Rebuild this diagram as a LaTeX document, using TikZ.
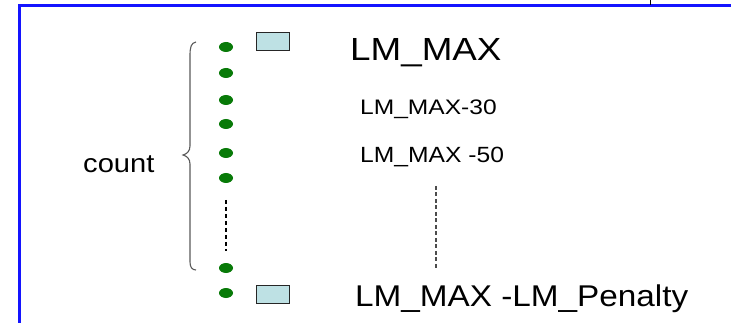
\documentclass[tikz,border=0pt]{standalone}
\usepackage{fontspec}
\usepackage{graphicx}
\setmainfont{Liberation Sans}
\usetikzlibrary{shapes.geometric}
\definecolor{dotgreen}{RGB}{8,122,8}
\definecolor{boxfill}{RGB}{190,225,228}
\definecolor{frameblue}{RGB}{20,20,255}
\definecolor{bracegray}{RGB}{90,90,90}
\begin{document}
\begin{tikzpicture}[x=1pt,y=-1pt,
  dotnode/.style={shape=ellipse, fill=dotgreen, draw=none, minimum width=14pt, minimum height=10pt, inner sep=0pt},
  boxnode/.style={shape=rectangle, fill=boxfill, draw=black!85, line width=1pt, minimum width=33pt, minimum height=18pt, inner sep=0pt},
  lbl/.style={anchor=base west, inner sep=0pt, text=black},
  vdash/.style={line width=1.8pt, dash pattern=on 4pt off 3pt},
  tdash/.style={line width=1.3pt, draw=black!70, dash pattern=on 4pt off 2.5pt},
  brace/.style={draw=bracegray, line width=1.1pt},
  frame/.style={draw=frameblue, line width=2.2pt}]
\useasboundingbox (0,0) rectangle (731,323);
\clip (0,0) rectangle (731,323);
\fill[white] (0,0) rectangle (731,323);
% frame
\draw[frame] (19.5,340) -- (19.5,5.5) -- (745,5.5);
\coordinate (tickA) at (650,0);
\coordinate (tickB) at (650,5);
\draw[line width=0.9pt] (tickA) -- (tickB);
% dots
\node[dotnode] (d1) at (226,47) {};
\node[dotnode] (d2) at (226,73) {};
\node[dotnode] (d3) at (226,100) {};
\node[dotnode] (d4) at (226,124) {};
\node[dotnode] (d5) at (226,153) {};
\node[dotnode] (d6) at (226,178) {};
\node[dotnode] (d7) at (226,268) {};
\node[dotnode] (d8) at (226,293) {};
\coordinate (ds1) at (226,200);
\coordinate (ds2) at (226,251);
\draw[vdash] (ds1) -- (ds2);
% boxes
\node[boxnode] (b1) at (273,42) {};
\node[boxnode] (b2) at (273,294) {};
% brace
\draw[brace] (196,42) .. controls (191,43) and (190,47) .. (190,56) -- (190,146) .. controls (190,151) and (187,154) .. (183,155) .. controls (187,156) and (190,159) .. (190,164) -- (190,262) .. controls (190,267) and (192,270) .. (196,270);
% texts
\node[lbl, font=\fontsize{26}{30}\selectfont] (cnt) at (83,173) {\scalebox{1.12}[1]{count}};
\node[lbl, font=\fontsize{32}{36}\selectfont] (t1) at (350,61) {\scalebox{1.15}[1]{LM\_MAX}};
\node[lbl, font=\fontsize{21}{25}\selectfont] (t2) at (360,115) {\scalebox{1.17}[1]{LM\_MAX-30}};
\node[lbl, font=\fontsize{22}{26}\selectfont] (t3) at (360,162.5) {\scalebox{1.12}[1]{LM\_MAX -50}};
\node[lbl, font=\fontsize{30}{34}\selectfont] (t4) at (355,306.5) {\scalebox{1.11}[1]{LM\_MAX -LM\_Penalty}};
\coordinate (ts1) at (436,186);
\coordinate (ts2) at (436,270);
\draw[tdash] (ts1) -- (ts2);
\end{tikzpicture}
\end{document}
